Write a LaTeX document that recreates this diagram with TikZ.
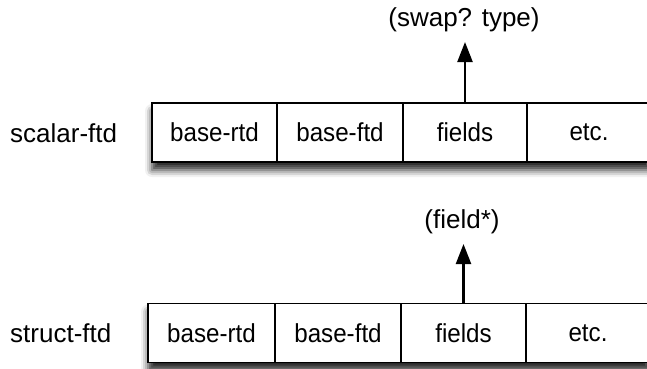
\documentclass[tikz,border=0pt]{standalone}
\usepackage{fontspec}
\setmainfont{Liberation Sans}
\newfontfamily\cellfont[FakeStretch=0.93]{Liberation Sans}
\usetikzlibrary{arrows.meta,shadows.blur}

\tikzset{
  cell/.style={draw, line width=1.4pt, fill=white, minimum height=59pt,
    inner sep=0pt, font=\cellfont\fontsize{26}{30}\selectfont},
  rowbox/.style={draw, line width=1.4pt, fill=white, minimum height=59pt,
    inner sep=0pt, blur shadow={shadow xshift=0pt, shadow yshift=-8pt,
    shadow blur radius=7pt, shadow opacity=85}},
  tag/.style={font=\fontsize{26}{30}\selectfont, inner sep=0pt},
  ptr/.style={line width=2.3pt, -{Triangle[width=15pt,length=20pt]}}
}

\begin{document}
\begin{tikzpicture}[x=1pt,y=-1pt]
  \useasboundingbox (0,0) rectangle (647,368);
  \clip (0,0) rectangle (647,368);

  % scalar-ftd record
  \node[anchor=west, tag] (lscalar) at (10,133) {scalar-ftd};
  \node[rowbox, minimum width=499pt] (rowA) at (401.5,132.5) {};
  \node[cell, minimum width=125pt] (a1) at (214.5,132.5) {base-rtd};
  \node[cell, minimum width=126pt] (a2) at (340,132.5) {base-ftd};
  \node[cell, minimum width=124pt] (a3) at (465,132.5) {fields};
  \node[cell, minimum width=124pt] (a4) at (589,132.5) {etc.};
  \node[tag] (swap) at (464,20) {(swap? type)};
  \coordinate (tipA) at (465,42);
  \draw[ptr] (a3.north) -- (tipA);

  % struct-ftd record
  \node[anchor=west, tag] (lstruct) at (10,333) {struct-ftd};
  \node[rowbox, minimum width=502pt] (rowB) at (399,333) {};
  \node[cell, minimum width=127pt] (b1) at (211.5,333) {base-rtd};
  \node[cell, minimum width=126pt] (b2) at (338,333) {base-ftd};
  \node[cell, minimum width=125pt] (b3) at (463.5,333) {fields};
  \node[cell, minimum width=124pt] (b4) at (588,333) {etc.};
  \node[tag] (fieldstar) at (462,222) {(field*)};
  \coordinate (tipB) at (463.5,244);
  \draw[ptr] (b3.north) -- (tipB);
\end{tikzpicture}
\end{document}
